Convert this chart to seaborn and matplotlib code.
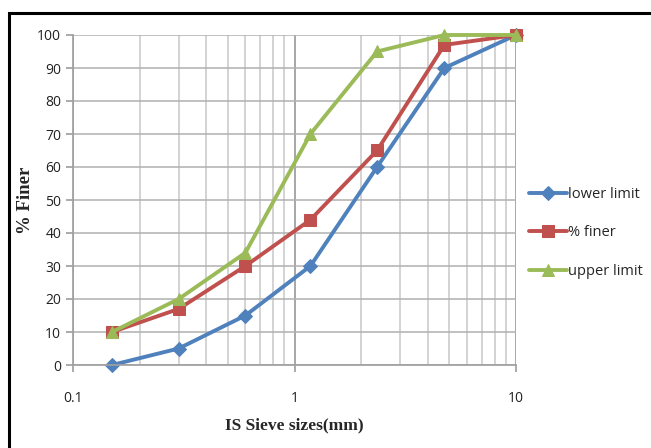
import matplotlib
matplotlib.use("Agg")
import matplotlib.pyplot as plt
import seaborn as sns
import pandas as pd
from matplotlib.patches import Rectangle
from matplotlib.ticker import LogLocator, FixedLocator, NullFormatter

# ------------------------------------------------------
# Data
# ------------------------------------------------------
sieve_sizes = [0.15, 0.3, 0.6, 1.18, 2.36, 4.75, 10]
lower_limit = [0, 5, 15, 30, 60, 90, 100]
pct_finer = [10, 17, 30, 44, 65, 97, 100]
upper_limit = [10, 20, 34, 70, 95, 100, 100]

series_names = ["lower limit", "% finer", "upper limit"]
series_values = [lower_limit, pct_finer, upper_limit]
colors = ["#4F81BD", "#C0504D", "#9BBB59"]
markers = ["D", "s", "^"]
msizes = [7, 9, 9]

sns.set_theme(style="white")
plt.rcParams["font.family"] = ["Open Sans", "DejaVu Sans"]

fig = plt.figure(figsize=(6.51, 4.48), dpi=100)
ax = fig.add_axes([73 / 651, 83 / 448, 443 / 651, 330 / 448])

for name, vals, c, m, ms in zip(series_names, series_values, colors, markers, msizes):
    df = pd.DataFrame({"size": sieve_sizes, "finer": vals})
    sns.lineplot(data=df, x="size", y="finer", color=c, marker=m, markersize=ms,
                 markeredgecolor=c, linewidth=2.8, label=name, ax=ax, clip_on=False)

ax.set_xscale("log")
ax.set_xlim(0.1, 10)
ax.set_ylim(0, 100)
ax.set_yticks(range(0, 101, 10))
ax.xaxis.set_major_locator(FixedLocator([0.1, 1, 10]))
ax.xaxis.set_minor_locator(LogLocator(base=10, subs=range(2, 10)))
ax.xaxis.set_minor_formatter(NullFormatter())
ax.set_xticklabels(["0.1", "1", "10"])

ax.grid(True, which="major", axis="y", color="#b0b0b0", linewidth=1.1)
ax.grid(True, which="minor", axis="x", color="#c8c8c8", linewidth=1.1)
ax.grid(True, which="major", axis="x", color="#909090", linewidth=1.1)
ax.set_axisbelow(True)

for s in ["top", "right"]:
    ax.spines[s].set_visible(False)
ax.spines["left"].set_color("#a0a0a0")
ax.spines["bottom"].set_color("#a0a0a0")
ax.tick_params(axis="both", which="major", length=5, color="#a0a0a0",
               labelsize=10, labelcolor="#222222", direction="out")
ax.tick_params(axis="x", which="major", pad=14)
ax.tick_params(axis="x", which="minor", length=0)
ax.tick_params(left=True, bottom=True)

serif = ["Liberation Serif", "DejaVu Serif"]
ax.set_xlabel("IS Sieve sizes(mm)", family=serif, fontweight="bold", fontsize=12.5, labelpad=8)
ax.set_ylabel("% Finer", family=serif, fontweight="bold", fontsize=13.5, labelpad=2)

leg = ax.legend(loc="center left", bbox_to_anchor=(1.0, 0.40), frameon=False,
                fontsize=10.5, handlelength=2.6, handletextpad=0.1, labelspacing=1.6)

# outer frame
fig.patches.append(Rectangle((9 / 651, -0.05), 1.2, (448 - 13) / 448 + 0.05,
                             transform=fig.transFigure, fill=False,
                             edgecolor="black", linewidth=2.2))

fig.savefig("out.png", dpi=100)
